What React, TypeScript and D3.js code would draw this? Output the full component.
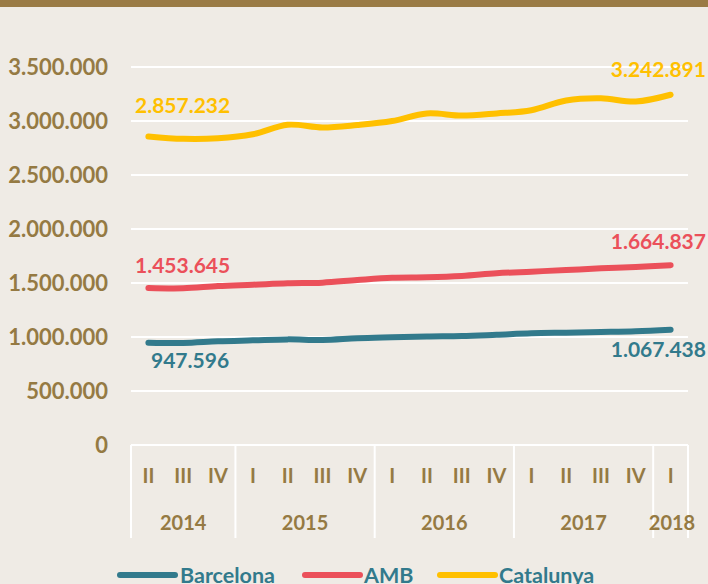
import React from 'react';
import * as d3 from 'd3';

const quarters = ['II', 'III', 'IV', 'I', 'II', 'III', 'IV', 'I', 'II', 'III', 'IV', 'I', 'II', 'III', 'IV', 'I'];
const years = ['2014', '2015', '2016', '2017', '2018'];
const yearSpans = [3, 4, 4, 4, 1];
const yTicks = [0, 500000, 1000000, 1500000, 2000000, 2500000, 3000000, 3500000];

const barcelona = [947596, 944000, 960000, 969000, 978000, 972000, 988000, 997000, 1005000, 1009000, 1021000, 1034000, 1040000, 1046000, 1053000, 1067438];
const amb = [1453645, 1451000, 1472000, 1484000, 1497000, 1503000, 1528000, 1549000, 1553000, 1565000, 1590000, 1605000, 1620000, 1636000, 1648000, 1664837];
const catalunya = [2857232, 2835000, 2840000, 2877000, 2965000, 2940000, 2963000, 3000000, 3070000, 3050000, 3070000, 3100000, 3190000, 3210000, 3180000, 3242891];

const BROWN = '#957a43';
const series = [
  { name: 'Barcelona', values: barcelona, color: '#327a8c' },
  { name: 'AMB', values: amb, color: '#eb505a' },
  { name: 'Catalunya', values: catalunya, color: '#ffc000' },
];

const fmt = (v: number) => d3.format(',')(v).replace(/,/g, '.');

export default function App() {
  const width = 708;
  const height = 584;
  const left = 131;
  const right = 688;
  const x = d3.scaleBand<number>().domain(d3.range(quarters.length)).range([left, right]);
  const y = d3.scaleLinear().domain([0, 3500000]).range([445, 67]);
  const cx = (i: number) => (x(i) as number) + x.bandwidth() / 2;
  const line = d3
    .line<number>()
    .x((_, i) => cx(i))
    .y((d) => y(d))
    .curve(d3.curveCatmullRom.alpha(0.5));

  // year group boundaries
  const bounds: number[] = [0];
  yearSpans.forEach((s) => bounds.push(bounds[bounds.length - 1] + s));
  const bx = (k: number) => (k >= quarters.length ? right : (x(k) as number));

  const last = quarters.length - 1;
  const font = 'Lato, sans-serif';

  const labels = [
    { text: fmt(catalunya[0]), x: 135, y: 113, anchor: 'start', color: '#ffc000' },
    { text: fmt(catalunya[last]), x: 706, y: 77, anchor: 'end', color: '#ffc000' },
    { text: fmt(amb[0]), x: 135, y: 273, anchor: 'start', color: '#eb505a' },
    { text: fmt(amb[last]), x: 706, y: 249, anchor: 'end', color: '#eb505a' },
    { text: fmt(barcelona[0]), x: 151, y: 368, anchor: 'start', color: '#327a8c' },
    { text: fmt(barcelona[last]), x: 706, y: 357, anchor: 'end', color: '#327a8c' },
  ];

  const legend = [
    { x1: 120, x2: 175, tx: 180 },
    { x1: 305, x2: 360, tx: 364 },
    { x1: 440, x2: 495, tx: 499 },
  ];

  return (
    <svg
      width={width}
      height={height}
      style={{ position: 'fixed', left: 0, top: 0 }}
      fontFamily={font}
      fontWeight="bold"
    >
      <rect width={width} height={height} fill="#efebe5" />
      <rect width={width} height={7} fill="#9a7b45" />

      {/* gridlines and y labels */}
      {yTicks.map((t) => (
        <g key={t}>
          <line x1={left} x2={right} y1={y(t)} y2={y(t)} stroke="#ffffff" strokeWidth={2} />
          <text x={108} y={y(t)} dy="0.36em" textAnchor="end" fontSize={22} fill={BROWN}>
            {fmt(t)}
          </text>
        </g>
      ))}

      {/* category axis */}
      {bounds.map((k) => (
        <line key={k} x1={bx(k)} x2={bx(k)} y1={445} y2={538} stroke="#ffffff" strokeWidth={2} />
      ))}
      {quarters.map((q, i) => (
        <text key={i} x={cx(i)} y={476} dy="0.36em" textAnchor="middle" fontSize={20} fill={BROWN}>
          {q}
        </text>
      ))}
      {years.map((yr, k) => (
        <text
          key={yr}
          x={k === years.length - 1 ? 672 : (bx(bounds[k]) + bx(bounds[k + 1])) / 2}
          y={523}
          dy="0.36em"
          textAnchor="middle"
          fontSize={20}
          fill={BROWN}
        >
          {yr}
        </text>
      ))}

      {/* lines */}
      {series.map((s) => (
        <path
          key={s.name}
          d={line(s.values) || ''}
          fill="none"
          stroke={s.color}
          strokeWidth={6}
          strokeLinecap="round"
          strokeLinejoin="round"
        />
      ))}

      {labels.map((l, i) => (
        <text key={i} x={l.x} y={l.y} textAnchor={l.anchor as any} fontSize={21} fill={l.color}>
          {l.text}
        </text>
      ))}

      {/* legend */}
      {series.map((s, i) => (
        <g key={s.name}>
          <line
            x1={legend[i].x1}
            x2={legend[i].x2}
            y1={575}
            y2={575}
            stroke={s.color}
            strokeWidth={6}
            strokeLinecap="round"
          />
          <text x={legend[i].tx} y={575} dy="0.36em" fontSize={21.5} fill="#327a8c">
            {s.name}
          </text>
        </g>
      ))}
    </svg>
  );
}
